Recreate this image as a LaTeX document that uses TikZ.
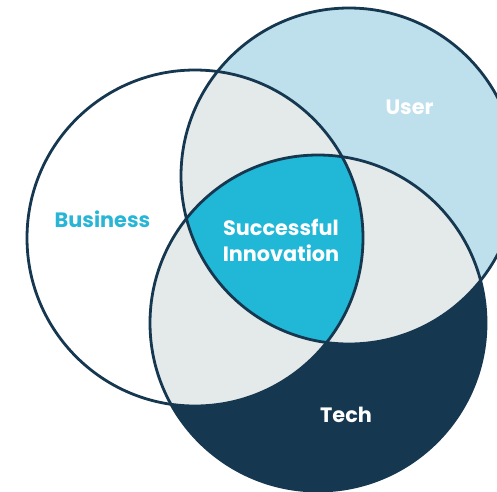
\documentclass[tikz,border=0pt]{standalone}
\usepackage{fontspec}
\setmainfont{Poppins}
\definecolor{navy}{HTML}{15374F}
\definecolor{lightblue}{HTML}{BDE0EC}
\definecolor{overlap}{HTML}{E4E9EA}
\definecolor{core}{HTML}{21B8D8}
\definecolor{bizcol}{HTML}{29B5D5}
\tikzset{
  ring/.style={draw=navy, line width=2.8pt},
  lbl/.style={font=\fontsize{20.8}{26}\selectfont\bfseries, align=center, inner sep=0pt},
}
\begin{document}
\begin{tikzpicture}[x=1pt,y=-1pt]
\useasboundingbox (0,0) rectangle (497,491);
\clip (0,0) rectangle (497,491);
\def\rad{168}
\coordinate (B) at (195,238);
\coordinate (U) at (349,176);
\coordinate (T) at (318,323);
% single regions
\fill[lightblue] (U) circle (\rad);
\fill[navy] (T) circle (\rad);
% pairwise overlaps
\begin{scope}\clip (B) circle (\rad); \fill[overlap] (U) circle (\rad); \end{scope}
\begin{scope}\clip (B) circle (\rad); \fill[overlap] (T) circle (\rad); \end{scope}
\begin{scope}\clip (U) circle (\rad); \fill[overlap] (T) circle (\rad); \end{scope}
% triple
\begin{scope}\clip (B) circle (\rad); \clip (U) circle (\rad); \fill[core] (T) circle (\rad); \end{scope}
% outlines
\draw[ring] (B) circle (\rad);
\draw[ring] (U) circle (\rad);
\draw[ring] (T) circle (\rad);
% labels
\node[lbl, text=bizcol] (business) at (102.5,219) {Business};
\node[lbl, text=white] (user) at (409.5,107) {User};
\node[lbl, text=white] (tech) at (346,415) {Tech};
\node[lbl, text=white] (innov) at (281,240) {Successful\\Innovation};
\end{tikzpicture}
\end{document}
